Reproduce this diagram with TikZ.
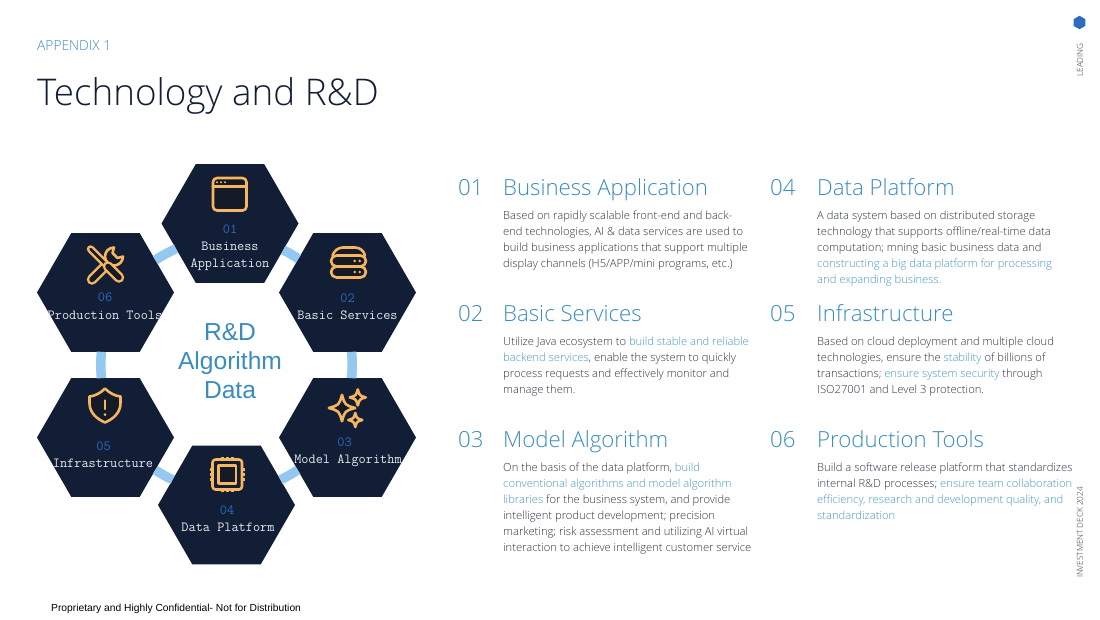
\documentclass[tikz,border=0pt]{standalone}
\usepackage{fontspec}
\usetikzlibrary{shapes.geometric}
\setmainfont{Open Sans Light}
\newfontfamily\arialf{Liberation Sans}
\definecolor{navy}{HTML}{111E36}
\definecolor{iconin}{HTML}{141A26}
\definecolor{amber}{HTML}{F6B65F}
\definecolor{ringc}{HTML}{93C8F1}
\definecolor{accent}{HTML}{3A8BBE}
\definecolor{hl}{HTML}{4497C2}
\definecolor{bodyc}{HTML}{2A3344}
\definecolor{numc}{HTML}{2E6BBE}
\definecolor{capc}{HTML}{E6E9EE}
\newcommand{\hl}[1]{\textcolor{hl}{#1}}
\newcommand{\sparkle}[3]{\draw[iconline,fill=iconin] (#1,#2-#3) .. controls (#1+.22*#3,#2-.22*#3) .. (#1+#3,#2) .. controls (#1+.22*#3,#2+.22*#3) .. (#1,#2+#3) .. controls (#1-.22*#3,#2+.22*#3) .. (#1-#3,#2) .. controls (#1-.22*#3,#2-.22*#3) .. cycle;}
\tikzset{
 hexa/.style={regular polygon,regular polygon sides=6,minimum size=137pt,inner sep=0pt,outer sep=0pt,fill=navy},
 ringseg/.style={draw=ringc,line width=9.5pt},
 iconline/.style={draw=amber,line width=2.6pt,line join=round,line cap=round},
 hnum/.style={font=\ttfamily\fontsize{14}{14}\selectfont,text=numc,inner sep=0pt},
 hcap/.style={font=\ttfamily\fontsize{13.9}{17.5}\selectfont,text=capc,inner sep=0pt,align=center},
 secnum/.style={anchor=base west,inner sep=0pt,text=accent,font=\fontsize{22.2}{22}\selectfont},
 sechead/.style={anchor=base west,inner sep=0pt,text=accent,font=\fontsize{22.2}{22}\selectfont},
 para/.style={anchor=north west,inner sep=0pt,align=left,text=bodyc,font=\fontsize{11.2}{16}\selectfont},
 sidetxt/.style={rotate=90,inner sep=0pt,text=bodyc,font=\fontsize{8.2}{8}\selectfont},
}
\begin{document}
\begin{tikzpicture}[x=1pt,y=-1pt]
\useasboundingbox (0,0) rectangle (1100,619);
% hexagons
\node[hexa] (h1) at (230,223.5) {};
\node[hexa] (h2) at (347.5,292.5) {};
\node[hexa] (h3) at (347.5,437.5) {};
\node[hexa] (h4) at (226.5,505) {};
\node[hexa] (h5) at (105.5,437.5) {};
\node[hexa] (h6) at (105.5,292.5) {};
% ring connectors
\draw[ringseg] (h1) to[bend left=4] (h2);
\draw[ringseg] (h2) to[bend left=4] (h3);
\draw[ringseg] (h3) to[bend left=4] (h4);
\draw[ringseg] (h4) to[bend left=4] (h5);
\draw[ringseg] (h5) to[bend left=4] (h6);
\draw[ringseg] (h6) to[bend left=4] (h1);
% icon 01 window
\draw[iconline,fill=iconin,rounded corners=4pt] (213,178) rectangle (246.5,210.5);
\draw[iconline] (213,186.5) -- (246.5,186.5);
\fill[amber] (217,182.2) circle (1.2pt) (221,182.2) circle (1.2pt) (225,182.2) circle (1.2pt);
% icon 02 server
\draw[iconline,fill=iconin] (332.5,255.5) .. controls (334,251) and (338,247.5) .. (343,247.5) -- (355,247.5) .. controls (360,247.5) and (364,251) .. (365,255.5);
\draw[iconline,fill=iconin,rounded corners=5.5pt] (331,255.5) rectangle (366,266.5);
\draw[iconline,fill=iconin,rounded corners=5.5pt] (331,266.5) rectangle (366,277.5);
\fill[amber] (354.7,260.9) circle (1.4pt) (359.7,260.9) circle (1.4pt) (354.7,272) circle (1.4pt) (359.7,272) circle (1.4pt);
% icon 03 sparkles
\sparkle{342}{408}{13.2}
\sparkle{357.8}{397.4}{8}
\sparkle{355.3}{420}{7}
% icon 04 chip
\foreach \p in {222.5,227.5,232.5}{\draw[iconline,line cap=butt] (\p,457) -- (\p,492);}
\foreach \p in {469.5,474.5,479.5}{\draw[iconline,line cap=butt] (210,\p) -- (244.5,\p);}
\draw[iconline,fill=navy,rounded corners=3pt] (212.5,459.5) rectangle (242,489.5);
\draw[iconline,fill=iconin] (218.5,465.5) rectangle (236,483.5);
% icon 05 shield
\draw[iconline,fill=iconin] (105,388.5) .. controls (100.5,393) and (95,396) .. (89.5,396.5) -- (89.5,403) .. controls (89.5,413) and (97,419) .. (105,422.5) .. controls (113,419) and (120.5,413) .. (120.5,403) -- (120.5,396.5) .. controls (115,396) and (109.5,393) .. (105,388.5) -- cycle;
\draw[iconline] (105,400.5) -- (105,409);
\fill[amber] (105,414.5) circle (1.5pt);
% icon 06 tools
\draw[draw=amber,line width=10.5pt,line cap=round] (92,279.5) -- (110,261.5);
\draw[draw=iconin,line width=5.5pt,line cap=round] (92,279.5) -- (110,261.5);
\draw[iconline,fill=iconin] (123,256.5) .. controls (123,261.5) and (119,265.5) .. (114,265.5) .. controls (109,265.5) and (105,261.5) .. (105,256.5) .. controls (105,251.5) and (109,247.5) .. (114,247.5) -- (112.5,253) -- (117.5,258) -- cycle;
\draw[draw=amber,line width=7.5pt,line cap=round] (90.5,249) -- (105,263.5);
\draw[draw=iconin,line width=2.6pt,line cap=round] (90.5,249) -- (105,263.5);
\draw[draw=amber,line width=10.5pt,line cap=round] (108,266.5) -- (119,277.5);
\draw[draw=iconin,line width=5.5pt,line cap=round] (108,266.5) -- (119,277.5);
% hexagon labels
\node[hnum] (n1) at (230,229) {01};
\node[hcap] (c1) at (230,256.5) {Business\\Application};
\node[hnum] (n2) at (347.5,298) {02};
\node[hcap] (c2) at (347.5,315) {Basic Services};
\node[hnum] (n3) at (344.5,442) {03};
\node[hcap] (c3) at (348,461) {Model Algorithm};
\node[hnum] (n4) at (227,510) {04};
\node[hcap] (c4) at (228,527) {Data Platform};
\node[hnum] (n5) at (103.5,446) {05};
\node[hcap] (c5) at (103,463.5) {Infrastructure};
\node[hnum] (n6) at (105,297) {06};
\node[hcap] (c6) at (105,315) {Production Tools};
% centre
\node[inner sep=0pt,align=center,text=accent,font=\arialf\fontsize{24.6}{29}\selectfont] (centre) at (230,361) {R\&D\\Algorithm\\Data};
% header
\node[anchor=base west,inner sep=0pt,text=accent,font=\fontsize{13.8}{13}\selectfont] (app) at (37,50) {APPENDIX 1};
\node[anchor=base west,inner sep=0pt,text=navy,font=\fontsize{36.8}{36}\selectfont] (title) at (37,105) {Technology and R\&D};
% sections
\node[secnum] (s1) at (458,195.5) {01};
\node[sechead] (t1) at (503,195.5) {Business Application};
\node[para] (p1) at (503,207.8) {\strut Based on rapidly scalable front-end and back-\\end technologies, AI \& data services are used to\\build business applications that support multiple\\display channels (H5/APP/mini programs, etc.)};
\node[secnum] (s2) at (458,321.5) {02};
\node[sechead] (t2) at (503,321.5) {Basic Services};
\node[para] (p2) at (503,333.8) {\strut Utilize Java ecosystem to \hl{build stable and reliable}\\\hl{backend services}, enable the system to quickly\\process requests and effectively monitor and\\manage them.};
\node[secnum] (s3) at (458,447.5) {03};
\node[sechead] (t3) at (503,447.5) {Model Algorithm};
\node[para] (p3) at (503,459.8) {\strut On the basis of the data platform, \hl{build}\\\hl{conventional algorithms and model algorithm}\\\hl{libraries} for the business system, and provide\\intelligent product development; precision\\marketing; risk assessment and utilizing AI virtual\\interaction to achieve intelligent customer service};
\node[secnum] (s4) at (770,195.5) {04};
\node[sechead] (t4) at (817,195.5) {Data Platform};
\node[para] (p4) at (817,207.8) {\strut A data system based on distributed storage\\technology that supports offline/real-time data\\computation; mning basic business data and\\\hl{constructing a big data platform for processing}\\\hl{and expanding business.}};
\node[secnum] (s5) at (770,321.5) {05};
\node[sechead] (t5) at (817,321.5) {Infrastructure};
\node[para] (p5) at (817,333.8) {\strut Based on cloud deployment and multiple cloud\\technologies, ensure the \hl{stability} of billions of\\transactions; \hl{ensure system security} through\\ISO27001 and Level 3 protection.};
\node[secnum] (s6) at (770,447.5) {06};
\node[sechead] (t6) at (817,447.5) {Production Tools};
\node[para] (p6) at (817,459.8) {\strut Build a software release platform that standardizes\\internal R\&D processes; \hl{ensure team collaboration}\\\hl{efficiency, research and development quality, and}\\\hl{standardization}};
% footer
\node[anchor=west,inner sep=0pt,text=black,font=\arialf\fontsize{10.26}{11}\selectfont] (foot) at (51,608.5) {Proprietary and Highly Confidential- Not for Distribution};
% side
\node[regular polygon,regular polygon sides=6,rotate=90,minimum size=13.5pt,inner sep=0pt,fill=numc] (logo) at (1079.5,22.5) {};
\node[sidetxt] (lead) at (1080,60) {LEADING};
\node[sidetxt] (deck) at (1080,532.5) {INVESTMENT DECK 2024};
\end{tikzpicture}
\end{document}
